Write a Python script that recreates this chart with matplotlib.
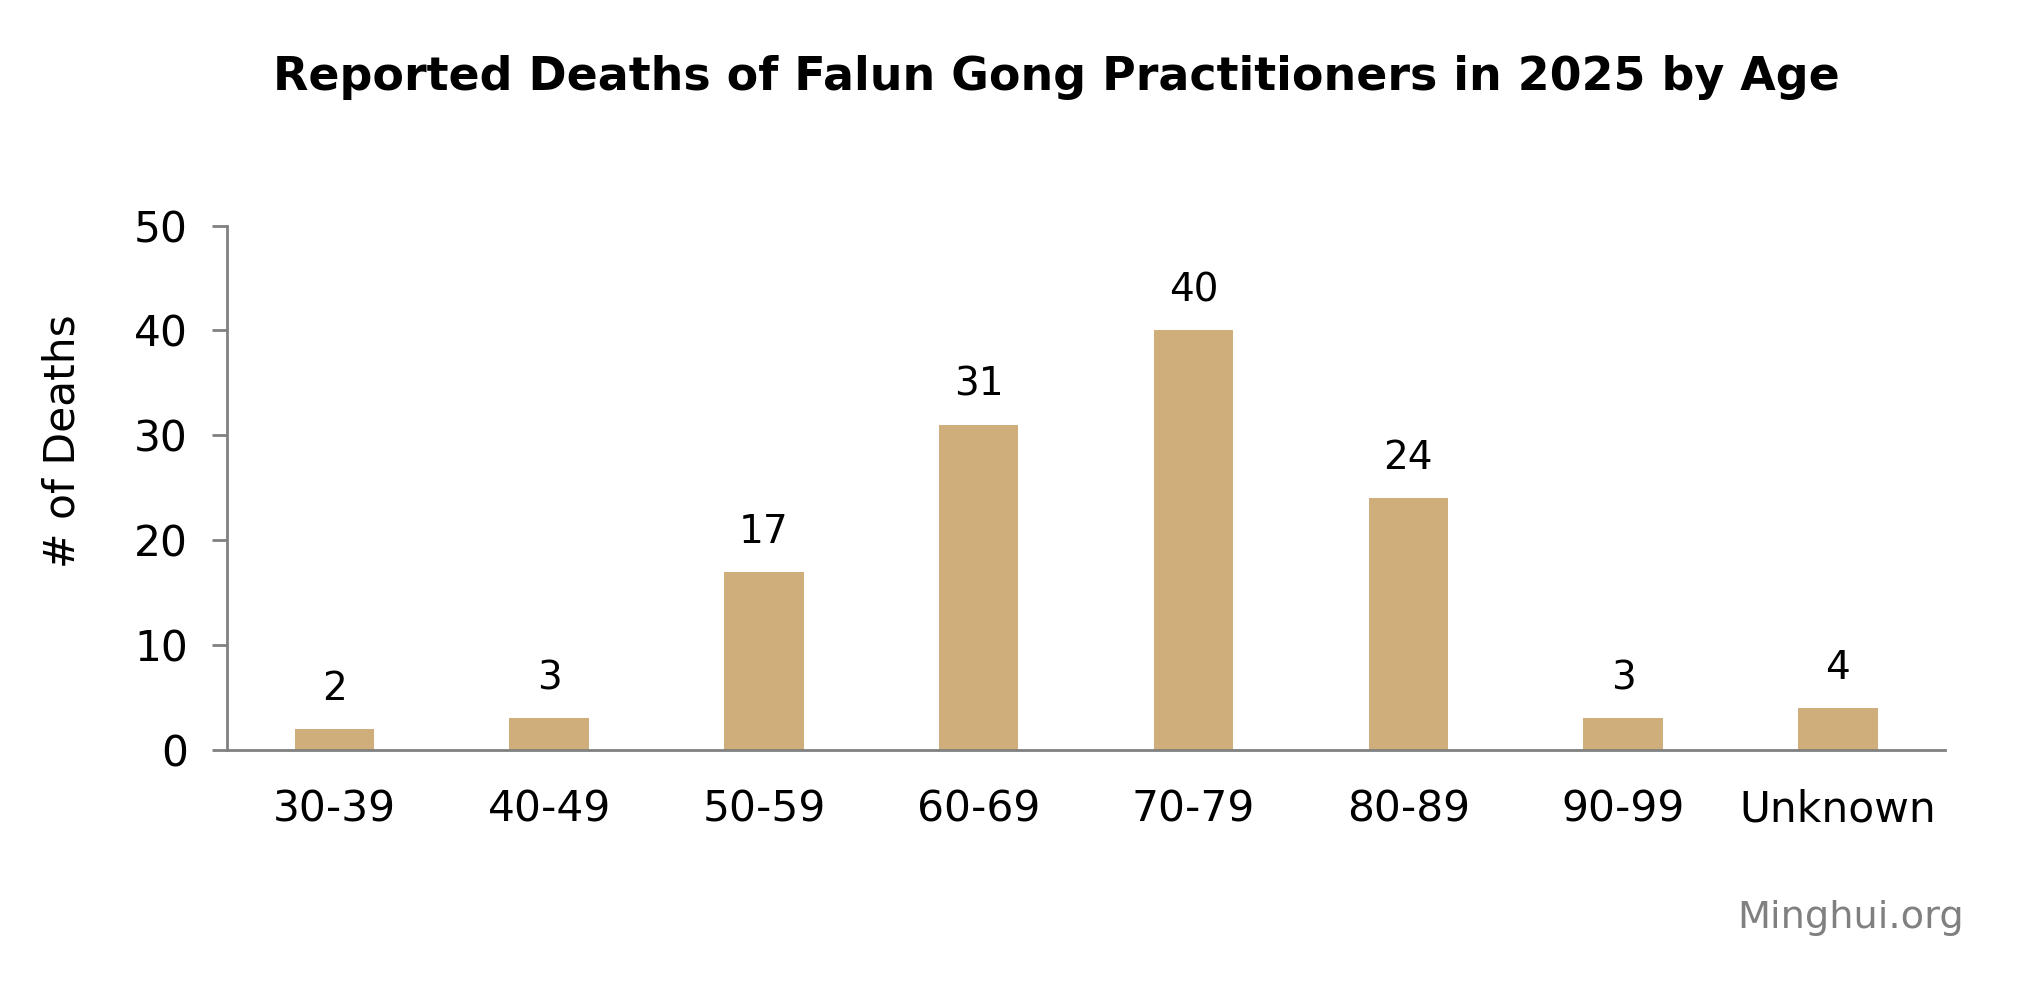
import matplotlib
matplotlib.use("Agg")
import matplotlib.pyplot as plt

age_groups = ["30-39", "40-49", "50-59", "60-69", "70-79", "80-89", "90-99", "Unknown"]
deaths = [2, 3, 17, 31, 40, 24, 3, 4]
y_ticks = [0, 10, 20, 30, 40, 50]

BAR_COLOR = "#CFAE7C"
AXIS_COLOR = "#808080"

plt.rcParams["font.family"] = ["DejaVu Sans"]

fig = plt.figure(figsize=(20.2, 9.86), dpi=100)
ax = fig.add_axes([0.1124, 0.2396, 0.8506, 0.5316])

x = range(len(age_groups))
bars = ax.bar(x, deaths, width=0.37, color=BAR_COLOR)
ax.bar_label(bars, labels=[str(v) for v in deaths], padding=15, fontsize=28)

ax.set_xlim(-0.5, len(age_groups) - 0.5)
ax.set_ylim(0, 50)
ax.set_yticks(y_ticks)
ax.set_xticks(list(x), labels=age_groups)

for side in ("top", "right"):
    ax.spines[side].set_visible(False)
for side in ("left", "bottom"):
    ax.spines[side].set_color(AXIS_COLOR)
    ax.spines[side].set_linewidth(2)

ax.tick_params(axis="y", length=11, width=2, color=AXIS_COLOR, labelsize=30.5, pad=17)
ax.tick_params(axis="x", length=0, labelsize=30.5, pad=28)

fig.text(0.031, 0.553, "# of Deaths", rotation=90, ha="center", va="center", fontsize=30.5)
fig.text(0.523, 0.921, "Reported Deaths of Falun Gong Practitioners in 2025 by Age",
         ha="center", va="center", fontsize=33, fontweight="bold")
fig.text(0.9725, 0.069, "Minghui.org", ha="right", va="center",
         fontsize=27.5, color=AXIS_COLOR)

fig.savefig("out.png", dpi=100)
